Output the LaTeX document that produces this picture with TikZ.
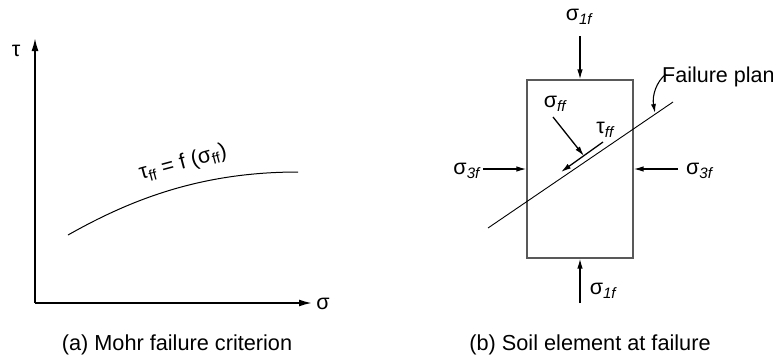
\documentclass[tikz,border=0pt]{standalone}
\usepackage{fontspec}
\setmainfont{Liberation Sans}
\usetikzlibrary{arrows.meta}
\tikzset{
  lbl/.style={inner sep=0pt, font=\fontsize{21.5}{24}\selectfont},
  captext/.style={inner sep=0pt, font=\fontsize{21.7}{26}\selectfont},
  axis/.style={line width=1.8pt, -{Latex[length=13pt,width=7pt]}},
  force/.style={line width=1.3pt, -{Latex[length=10pt,width=5.5pt]}},
  elem/.style={line width=1.2pt, draw=black!65},
}
\begin{document}
\begin{tikzpicture}[x=1pt,y=-1pt]
\useasboundingbox (0,0) rectangle (773,360);
% ---------- (a) ----------
\coordinate (O) at (35,303);
\coordinate (Ty) at (35,38);
\coordinate (Sx) at (312,303);
\draw[axis] (O) -- (Ty);
\draw[axis] (O) -- (Sx);
\node[lbl] (tau) at (16,51) {τ};
\node[lbl] (sig) at (323,304) {σ};
\coordinate (c0) at (68,235);
\coordinate (c1) at (298,172);
\draw[line width=1pt] (c0) .. controls (130,200) and (200,172) .. (c1);
\node[lbl, rotate=15] (env) at (183,163) {τ\textsubscript{ff} = f (σ\textsubscript{ff})};
\node[captext] (capa) at (177,345) {(a) Mohr failure criterion};
% ---------- (b) ----------
\node[elem, draw, minimum width=106pt, minimum height=178pt, inner sep=0pt] (box) at (580,169) {};
\coordinate (p0) at (488,228);
\coordinate (p1) at (673,102);
\draw[line width=0.9pt] (p0) -- (p1);
% sigma 1f
\coordinate (t1) at (580,36);
\draw[force] (t1) -- (box.north);
\node[lbl] (s1t) at (579,17) {σ\textsubscript{\itshape 1f}};
\coordinate (b1) at (580,303);
\draw[force] (b1) -- (box.south);
\node[lbl] (s1b) at (603,291) {σ\textsubscript{\itshape 1f}};
% sigma 3f
\coordinate (l3) at (483,169);
\draw[force] (l3) -- (box.west);
\node[lbl, anchor=east] (s3l) at (480,171) {σ\textsubscript{\itshape 3f}};
\coordinate (r3) at (678,169);
\draw[force] (r3) -- (box.east);
\node[lbl, anchor=west] (s3r) at (686,171) {σ\textsubscript{\itshape 3f}};
% sigma ff / tau ff
\node[lbl] (sff) at (555,104) {σ\textsubscript{\itshape ff}};
\coordinate (sffa) at (553,117);
\coordinate (sffb) at (584,156);
\draw[force] (sffa) -- (sffb);
\node[lbl] (tff) at (605,130) {τ\textsubscript{\itshape ff}};
\coordinate (tffa) at (603,142);
\coordinate (tffb) at (561,172);
\draw[force] (tffa) -- (tffb);
% failure plane label
\node[lbl, anchor=west] (fp) at (662,77) {Failure plan};
\coordinate (fpa) at (666,74);
\coordinate (fpb) at (655,113);
\draw[line width=1.1pt, -{Latex[length=9pt,width=5pt]}] (fpa) .. controls (656,82) and (652,96) .. (fpb);
\node[captext] (capb) at (590,345) {(b) Soil element at failure};
\end{tikzpicture}
\end{document}
